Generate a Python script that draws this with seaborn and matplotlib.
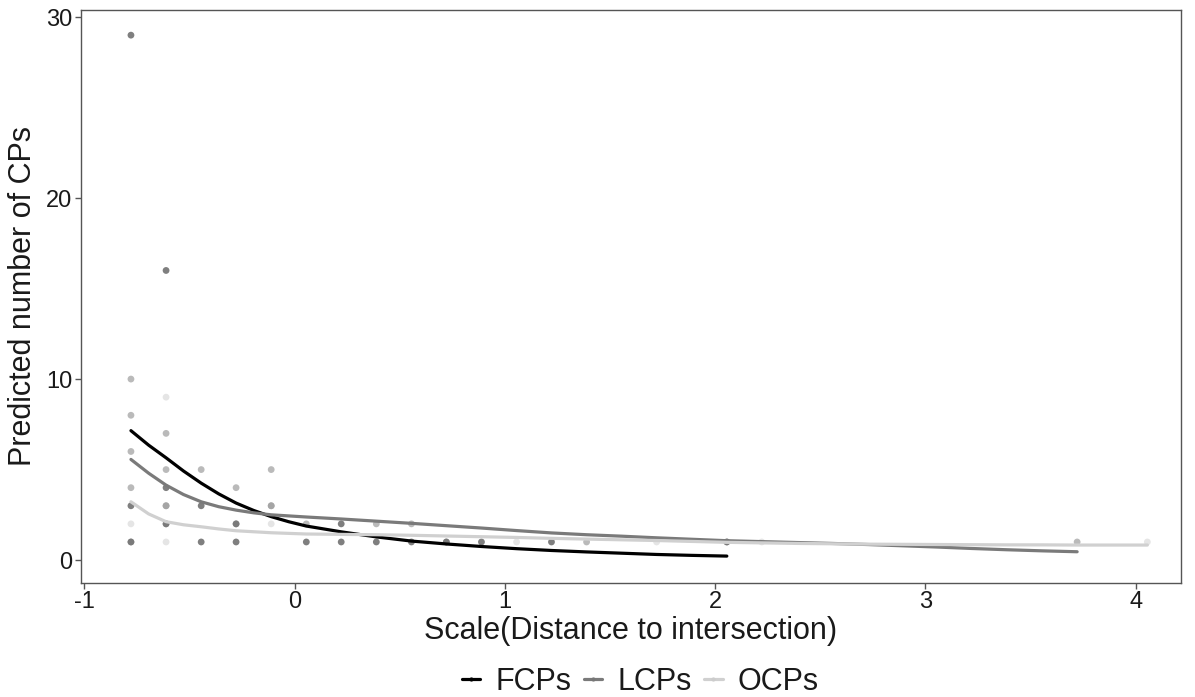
import pandas as pd
import matplotlib
matplotlib.use('Agg')
import matplotlib.pyplot as plt
from matplotlib.lines import Line2D
import seaborn as sns

sns.set_style('white')
plt.rcParams['font.family'] = ['Liberation Sans', 'DejaVu Sans']
plt.rcParams['axes.unicode_minus'] = False

# ================================
# DATA
# ================================
types = ['FCPs', 'LCPs', 'OCPs']

# observed counts
fcp_pts_x = [-0.778, -0.778, -0.778, -0.611, -0.611, -0.611, -0.611, -0.444, -0.444,
             -0.278, -0.278, -0.111, 0.056, 0.222, 0.222, 0.389, 0.556, 0.722, 0.889,
             1.222, 2.056]
fcp_pts_y = [29, 3, 1, 16, 4, 3, 2, 3, 1, 2, 1, 3, 1, 2, 1, 1, 1, 1, 1, 1, 1]

lcp_pts_x = [-0.778, -0.778, -0.778, -0.778, -0.778, -0.611, -0.611, -0.611, -0.444,
             -0.278, -0.278, -0.111, 0.056, 0.389, 0.556, 0.722, 1.389, 2.056, 3.722]
lcp_pts_y = [10, 8, 6, 4, 1, 7, 5, 2, 5, 4, 2, 5, 2, 2, 2, 1, 1, 1, 1]

ocp_pts_x = [-0.778, -0.611, -0.611, -0.611, -0.111, -0.111, 1.056, 1.722, 2.222, 4.056]
ocp_pts_y = [2, 9, 3, 1, 3, 2, 1, 1, 1, 1]

# smoothed predictions
fcp_line_x = [-0.778, -0.694, -0.611, -0.528, -0.444, -0.361, -0.278, -0.194, -0.111,
              -0.028, 0.056, 0.222, 0.389, 0.556, 0.722, 0.889, 1.056, 1.222, 1.389,
              1.556, 1.722, 1.889, 2.056]
fcp_line_y = [7.15, 6.35, 5.65, 4.92, 4.25, 3.66, 3.15, 2.74, 2.4,
              2.12, 1.88, 1.56, 1.28, 1.05, 0.89, 0.75, 0.63, 0.53, 0.45,
              0.38, 0.31, 0.26, 0.22]

lcp_line_x = [-0.778, -0.694, -0.611, -0.528, -0.444, -0.361, -0.278, -0.194, -0.111,
              0.056, 0.222, 0.389, 0.556, 0.722, 0.889, 1.056, 1.222, 1.389, 1.556,
              1.722, 1.889, 2.056, 2.222, 2.389, 2.556, 2.722, 2.889, 3.056, 3.222,
              3.389, 3.556, 3.722]
lcp_line_y = [5.56, 4.8, 4.14, 3.62, 3.22, 2.95, 2.76, 2.61, 2.5,
              2.38, 2.27, 2.15, 2.03, 1.9, 1.77, 1.63, 1.5, 1.4, 1.32,
              1.23, 1.15, 1.07, 1.02, 0.97, 0.92, 0.86, 0.79, 0.72, 0.64,
              0.57, 0.51, 0.46]

ocp_line_x = [-0.778, -0.694, -0.611, -0.528, -0.444, -0.361, -0.278, -0.111, 0.056,
              0.222, 0.389, 0.556, 0.722, 0.889, 1.056, 1.222, 1.389, 1.556, 1.722,
              1.889, 2.056, 2.222, 2.389, 2.556, 2.722, 2.889, 3.056, 3.222, 3.389,
              3.556, 3.722, 3.889, 4.056]
ocp_line_y = [3.22, 2.55, 2.12, 1.95, 1.84, 1.72, 1.62, 1.51, 1.44,
              1.42, 1.4, 1.37, 1.33, 1.29, 1.25, 1.2, 1.16, 1.12, 1.08,
              1.03, 0.98, 0.95, 0.92, 0.9, 0.88, 0.87, 0.86, 0.85, 0.84,
              0.84, 0.83, 0.83, 0.83]

pt_colors = {'FCPs': '#000000', 'LCPs': '#777777', 'OCPs': '#cccccc'}
line_colors = {'FCPs': '#000000', 'LCPs': '#7a7a7a', 'OCPs': '#d0d0d0'}

pts = pd.concat([
    pd.DataFrame({'x': fcp_pts_x, 'y': fcp_pts_y, 'type': 'FCPs'}),
    pd.DataFrame({'x': lcp_pts_x, 'y': lcp_pts_y, 'type': 'LCPs'}),
    pd.DataFrame({'x': ocp_pts_x, 'y': ocp_pts_y, 'type': 'OCPs'}),
], ignore_index=True)

curves = pd.concat([
    pd.DataFrame({'x': fcp_line_x, 'y': fcp_line_y, 'type': 'FCPs'}),
    pd.DataFrame({'x': lcp_line_x, 'y': lcp_line_y, 'type': 'LCPs'}),
    pd.DataFrame({'x': ocp_line_x, 'y': ocp_line_y, 'type': 'OCPs'}),
], ignore_index=True)

# ================================
# PLOT
# ================================
fig = plt.figure(figsize=(11.95, 6.97), dpi=100)
ax = fig.add_axes([80.7 / 1195, 114.3 / 697, (1181 - 80.7) / 1195, (687 - 114.3) / 697])

sns.scatterplot(data=pts, x='x', y='y', hue='type', hue_order=types, palette=pt_colors,
                alpha=0.5, s=24, edgecolor='none', legend=False, ax=ax, zorder=2)
sns.lineplot(data=curves, x='x', y='y', hue='type', hue_order=types, palette=line_colors,
             linewidth=2.3, legend=False, ax=ax, zorder=3)

ax.set_xlim(-1.017, 4.216)
ax.set_ylim(-1.25, 30.39)
ax.set_xticks([-1, 0, 1, 2, 3, 4])
ax.set_yticks([0, 10, 20, 30])
ax.set_xlabel('Scale(Distance to intersection)', fontsize=22, labelpad=2, color='#1a1a1a')
ax.set_ylabel('Predicted number of CPs', fontsize=22, labelpad=6, color='#1a1a1a')
ax.tick_params(axis='both', labelsize=17, length=4, width=1, color='#555555',
               labelcolor='#1a1a1a', direction='out', pad=2, bottom=True, left=True)
for sp in ax.spines.values():
    sp.set_color('#555555')
    sp.set_linewidth(1)

handles = [Line2D([0], [0], color=line_colors[t], lw=2.3, marker='o', markersize=3,
                  markerfacecolor=pt_colors[t], markeredgecolor='none') for t in types]
leg = fig.legend(handles, types, loc='center', bbox_to_anchor=(0.536, 0.022), ncol=3,
                 frameon=False, fontsize=22, handlelength=0.6, handletextpad=0.5,
                 columnspacing=0.4)
for txt in leg.get_texts():
    txt.set_color('#1a1a1a')

plt.savefig('out.png', dpi=100)
